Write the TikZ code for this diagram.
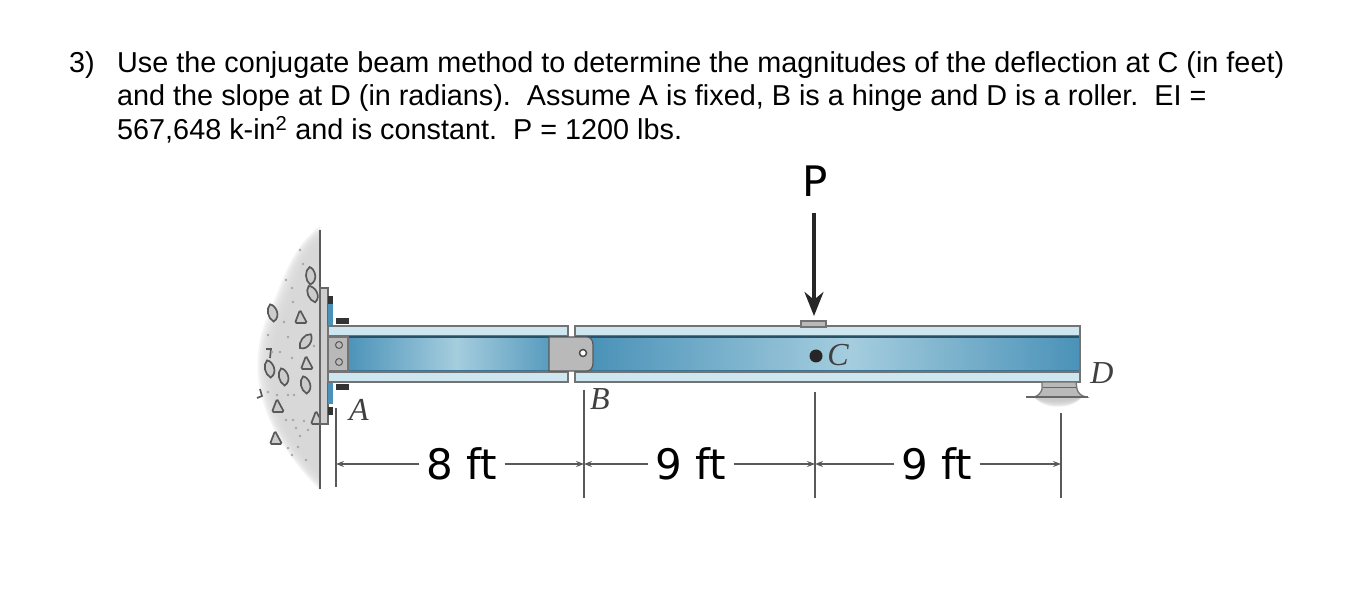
\documentclass[tikz,border=0pt]{standalone}
\usepackage{fontspec}
\setmainfont{Liberation Sans}
\newfontfamily\dimfont{DejaVu Sans}
\newfontfamily\labelfont{Liberation Serif}
\usetikzlibrary{arrows.meta, positioning}

\begin{document}
\begin{tikzpicture}[x=1pt, y=-1pt,
    statement/.style={anchor=base west, inner sep=0pt, font=\fontsize{28.8}{33}\selectfont},
    dimlabel/.style={inner sep=0pt, minimum width=85pt, minimum height=30pt, font=\dimfont\fontsize{42}{44}\selectfont},
    pointlabel/.style={inner sep=0pt, text=black!75, font=\labelfont\itshape\fontsize{32}{34}\selectfont},
    ticks/.style={black!65, line width=1.2pt},
    dimarrow/.style={-{Stealth[length=8pt, width=6pt]}, black!65, line width=1.1pt},
    edgeline/.style={draw=black!55, line width=1.3pt},
    stone/.style={draw=black!65, line width=1.7pt, fill=white!80!black},
    grain/.style={circle, fill=black!35, inner sep=1pt}]

    % Define colors
    \definecolor{webdark}{RGB}{74,146,184}
    \definecolor{weblight}{RGB}{165,205,222}
    \definecolor{flange}{RGB}{205,230,239}
    \definecolor{platecolor}{RGB}{185,185,185}
    \definecolor{wallcolor}{RGB}{214,214,214}

    \useasboundingbox (0,0) rectangle (1371,601);

    % Problem statement
    \node[statement] (num) at (69,73) {3)};
    \node[statement] (lineone) at (117,73) {Use the conjugate beam method to determine the magnitudes of the deflection at C (in feet)};
    \node[statement] (linetwo) at (117,106) {and the slope at D (in radians).\ \ Assume A is fixed, B is a hinge and D is a roller.\ \ EI =};
    \node[statement] (linethree) at (117,140) {567,648 k-in\textsuperscript{2} and is constant.\ \ P = 1200 lbs.};

    % Wall with soft edge
    \foreach \off in {16,14,...,0} {
        \fill[wallcolor, opacity=0.28]
            (320,242-\off) .. controls (304-\off,250) and (296-\off,290) .. (282-\off,320)
            .. controls (266-\off,360) and (266-\off,420) .. (320,474+\off) -- cycle;
    }
    % Stones
    \foreach \sx/\sy/\rot in {311/276/15, 313/294/35, 273/313/25, 306/342/-25, 270/369/25, 284/377/25, 306/385/25} {
        \draw[stone, rotate around={\rot:(\sx,\sy)}] (\sx-3,\sy+8) .. controls (\sx-7,\sy+3) and (\sx-5,\sy-7) .. (\sx+1,\sy-9)
            .. controls (\sx+6,\sy-6) and (\sx+6,\sy+7) .. (\sx-3,\sy+8) -- cycle;
    }
    \foreach \sx/\sy in {301/317, 307/363, 278/406, 317/418, 276/438} {
        \draw[stone, rounded corners=1.5pt] (\sx-6,\sy+6) -- (\sx-1,\sy-7) -- (\sx+6,\sy+6) -- cycle;
    }
    \draw[stone, fill=none] (266,349) -- (271,349) -- (270,358);
    \draw[stone, fill=none] (260,389) -- (262,396) -- (257,398);
    \foreach \gx/\gy [count=\i] in {300/250, 303/264, 286/280, 292/288, 293/302, 284/322, 268/335, 288/337, 292/358, 280/352, 272/352, 294/395, 288/395, 268/392, 293/420, 296/428, 304/421, 300/436, 298/447, 288/448, 308/430, 314/346, 286/420, 277/395, 306/460, 292/455} {
        \node[grain] (grain\i) at (\gx,\gy) {};
    }
    \draw[ticks, line width=1.5pt] (320,230) -- (320,489);

    % Wall plate and bolts
    \filldraw[fill=platecolor!70, draw=black!60, line width=1.2pt] (320,288) rectangle (328,424);
    \foreach \by in {300,312,356,394,411} {
        \fill[black!80] (328,\by-4) rectangle (333,\by+4);
    }
    \fill[webdark] (328,304) rectangle (333,326);
    \fill[webdark] (328,382) rectangle (333,404);
    \fill[black!80] (336,318) rectangle (349,324);
    \fill[black!80] (336,384) rectangle (349,390);

    % Beams
    \shade[left color=webdark, right color=webdark, middle color=weblight] (345,337) rectangle (568,371);
    \shade[left color=webdark, right color=weblight] (590,337) rectangle (850,371);
    \shade[left color=weblight, right color=webdark] (850,337) rectangle (1080,371);
    \foreach \xa/\xb in {328/568, 575/1080} {
        \filldraw[fill=flange, edgeline] (\xa,326) rectangle (\xb,336);
        \filldraw[fill=flange, edgeline] (\xa,372) rectangle (\xb,382);
        \draw[webdark!55!black, line width=2pt] (\xa,337) -- (\xb,337);
        \draw[webdark!80!black, line width=1pt] (\xa,371) -- (\xb,371);
    }
    \draw[edgeline] (1080,326) -- (1080,382);
    \filldraw[fill=platecolor, edgeline] (328,337) rectangle (348,371);
    \foreach \by in {345,362} {
        \draw[black!65, line width=1pt] (339,\by) circle (3.5pt);
    }

    % Hinge at B
    \filldraw[fill=platecolor, draw=black!65, line width=1.2pt] (549,337) -- (587,337)
        .. controls (591,337) and (593,341) .. (593,345) -- (593,363)
        .. controls (593,367) and (591,371) .. (587,371) -- (549,371) -- cycle;
    \filldraw[fill=white, draw=black!70, line width=1.5pt] (583,353) circle (3.5pt);

    % Load plate and roller at D
    \filldraw[fill=platecolor, edgeline] (801,321) rectangle (826,327);
    \foreach \off in {8,6,...,0} {
        \fill[black!25, opacity=0.3] (1034,397) .. controls (1044,402+\off) and (1072,402+\off) .. (1082,397) -- cycle;
    }
    \filldraw[fill=platecolor, edgeline] (1042,382) -- (1076,382) -- (1077,389)
        .. controls (1078,393) and (1081,396) .. (1086,397) -- (1034,397)
        .. controls (1038,396) and (1041,393) .. (1042,389) -- cycle;
    \draw[black!60, line width=1pt] (1043,388) -- (1076,388);
    \draw[black!60, line width=1.5pt] (1026,397) -- (1088,397);

    % Labels
    \node[font=\dimfont\fontsize{42}{44}\selectfont, inner sep=0pt] (load) at (815,181) {P};
    \coordinate (loadtip) at (814,316);
    \coordinate (loadtail) at (814,213);
    \draw[-{Stealth[length=24pt, width=19pt]}, black!85, line width=3.5pt] (loadtail) -- (loadtip);
    \fill[black!85] (816,356) circle (6.5pt);
    \node[pointlabel] (ptA) at (359,410) {A};
    \node[pointlabel] (ptB) at (600,399) {B};
    \node[pointlabel] (ptC) at (838,355) {C};
    \node[pointlabel] (ptD) at (1102,373) {D};

    % Dimensions
    \coordinate (tickA) at (336,464);
    \coordinate (tickB) at (584,464);
    \coordinate (tickC) at (815,464);
    \coordinate (tickD) at (1061,464);
    \draw[ticks] (336,408) -- (336,487);
    \draw[ticks] (584,390) -- (584,498);
    \draw[ticks] (815,392) -- (815,498);
    \draw[ticks] (1061,413) -- (1061,498);

    \node[dimlabel] (dimAB) at (462,464) {8 ft};
    \node[dimlabel] (dimBC) at (691,464) {9 ft};
    \node[dimlabel] (dimCD) at (937,464) {9 ft};
    \draw[dimarrow] (dimAB) -- (tickA);
    \draw[dimarrow] (dimAB) -- (tickB);
    \draw[dimarrow] (dimBC) -- (tickB);
    \draw[dimarrow] (dimBC) -- (tickC);
    \draw[dimarrow] (dimCD) -- (tickC);
    \draw[dimarrow] (dimCD) -- (tickD);
\end{tikzpicture}
\end{document}
